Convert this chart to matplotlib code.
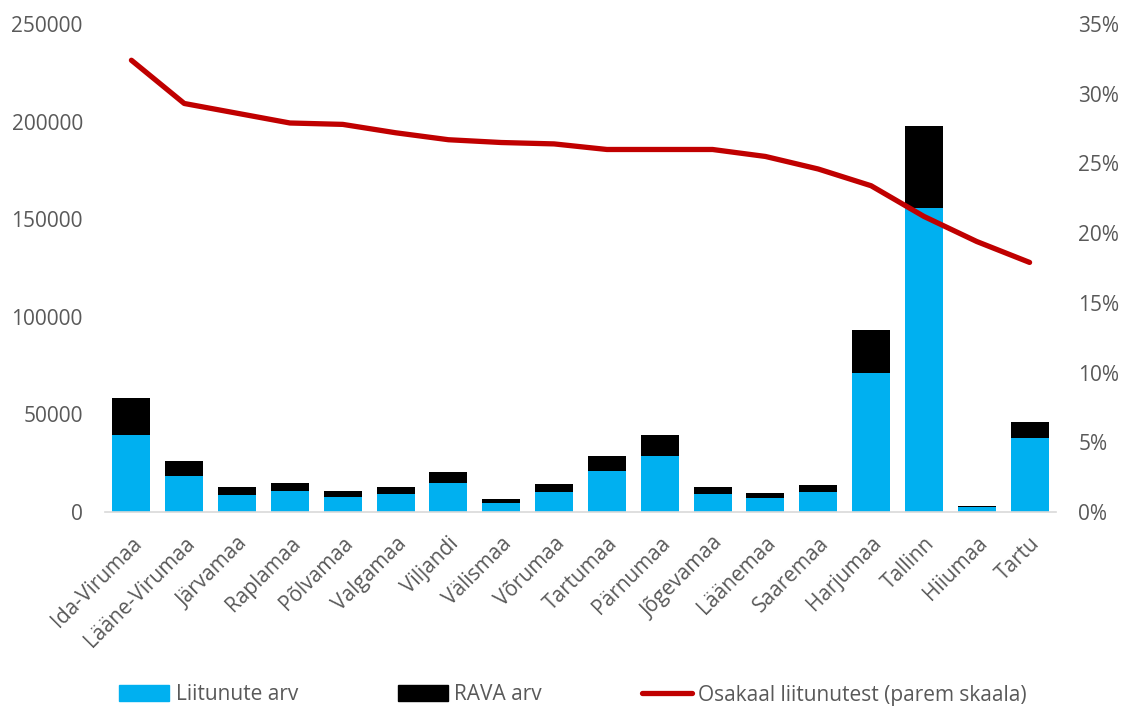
import matplotlib
matplotlib.use("Agg")
import matplotlib.pyplot as plt
from matplotlib.ticker import FuncFormatter, MultipleLocator
from matplotlib.patches import Patch
from matplotlib.lines import Line2D

categories = ["Ida-Virumaa", "Lääne-Virumaa", "Järvamaa", "Raplamaa", "Põlvamaa",
              "Valgamaa", "Viljandi", "Välismaa", "Võrumaa", "Tartumaa", "Pärnumaa",
              "Jõgevamaa", "Läänemaa", "Saaremaa", "Harjumaa", "Tallinn", "Hiiumaa", "Tartu"]
liitunute = [39500, 18300, 8700, 10800, 7500, 9100, 14900, 4800, 10400, 21200,
             28700, 9400, 7300, 10300, 71000, 155700, 2600, 37900]
rava = [18900, 7800, 3950, 4200, 3100, 3550, 5600, 2050, 4100, 7500,
        10600, 3250, 2600, 3400, 22000, 42000, 650, 8200]
osakaal = [0.324, 0.293, 0.286, 0.279, 0.278, 0.272, 0.267, 0.265, 0.264, 0.260,
           0.260, 0.260, 0.255, 0.246, 0.234, 0.212, 0.194, 0.179]

TXT = "#595959"
BLUE = "#00B0F0"
RED = "#C00000"

plt.rcParams['font.family'] = ['Open Sans', 'DejaVu Sans']
plt.rcParams['font.size'] = 15

fig = plt.figure(figsize=(11.22, 7.09), dpi=100)
ax = fig.add_axes([105 / 1122, 1 - 512 / 709, 951 / 1122, 488 / 709])

x = list(range(len(categories)))
ax.bar(x, liitunute, width=0.72, color=BLUE, zorder=2)
ax.bar(x, rava, width=0.72, bottom=liitunute, color="black", zorder=2)

ax.set_xlim(-0.5, len(categories) - 0.5)
ax.set_ylim(0, 250000)
ax.yaxis.set_major_locator(MultipleLocator(50000))
ax.yaxis.set_major_formatter(FuncFormatter(lambda v, p: f"{int(v)}"))

for s in ["top", "right", "left"]:
    ax.spines[s].set_visible(False)
ax.spines["bottom"].set_color("#D9D9D9")
ax.spines["bottom"].set_linewidth(1.2)

ax.tick_params(axis="y", length=0, pad=16, colors=TXT, labelsize=15)
ax.tick_params(axis="x", length=0, pad=15, colors=TXT, labelsize=15)
ax.set_xticks(x)
ax.set_xticklabels(categories, rotation=45, ha="right", rotation_mode="anchor")

ax2 = ax.twinx()
ax2.plot(x, osakaal, color=RED, linewidth=3.8, solid_capstyle="round",
         solid_joinstyle="round", zorder=3)
ax2.set_ylim(0, 0.35)
ax2.yaxis.set_major_locator(MultipleLocator(0.05))
ax2.yaxis.set_major_formatter(FuncFormatter(lambda v, p: f"{round(v * 100)}%"))
for s in ["top", "right", "left", "bottom"]:
    ax2.spines[s].set_visible(False)
ax2.tick_params(axis="y", length=0, pad=16, colors=TXT, labelsize=15)

handles = [Patch(color=BLUE), Patch(color="black"),
           Line2D([0], [0], color=RED, linewidth=3.8, solid_capstyle="round")]
labels = ["Liitunute arv", "RAVA arv", "Osakaal liitunutest (parem skaala)"]
leg = fig.legend(handles, labels, loc="center", bbox_to_anchor=(573 / 1122, 1 - 695 / 709),
                 ncol=3, frameon=False, fontsize=15, handlelength=2.4,
                 handleheight=0.8, handletextpad=0.3, columnspacing=4.8,
                 labelcolor=TXT, borderpad=0)

fig.savefig("out.png", dpi=100)
